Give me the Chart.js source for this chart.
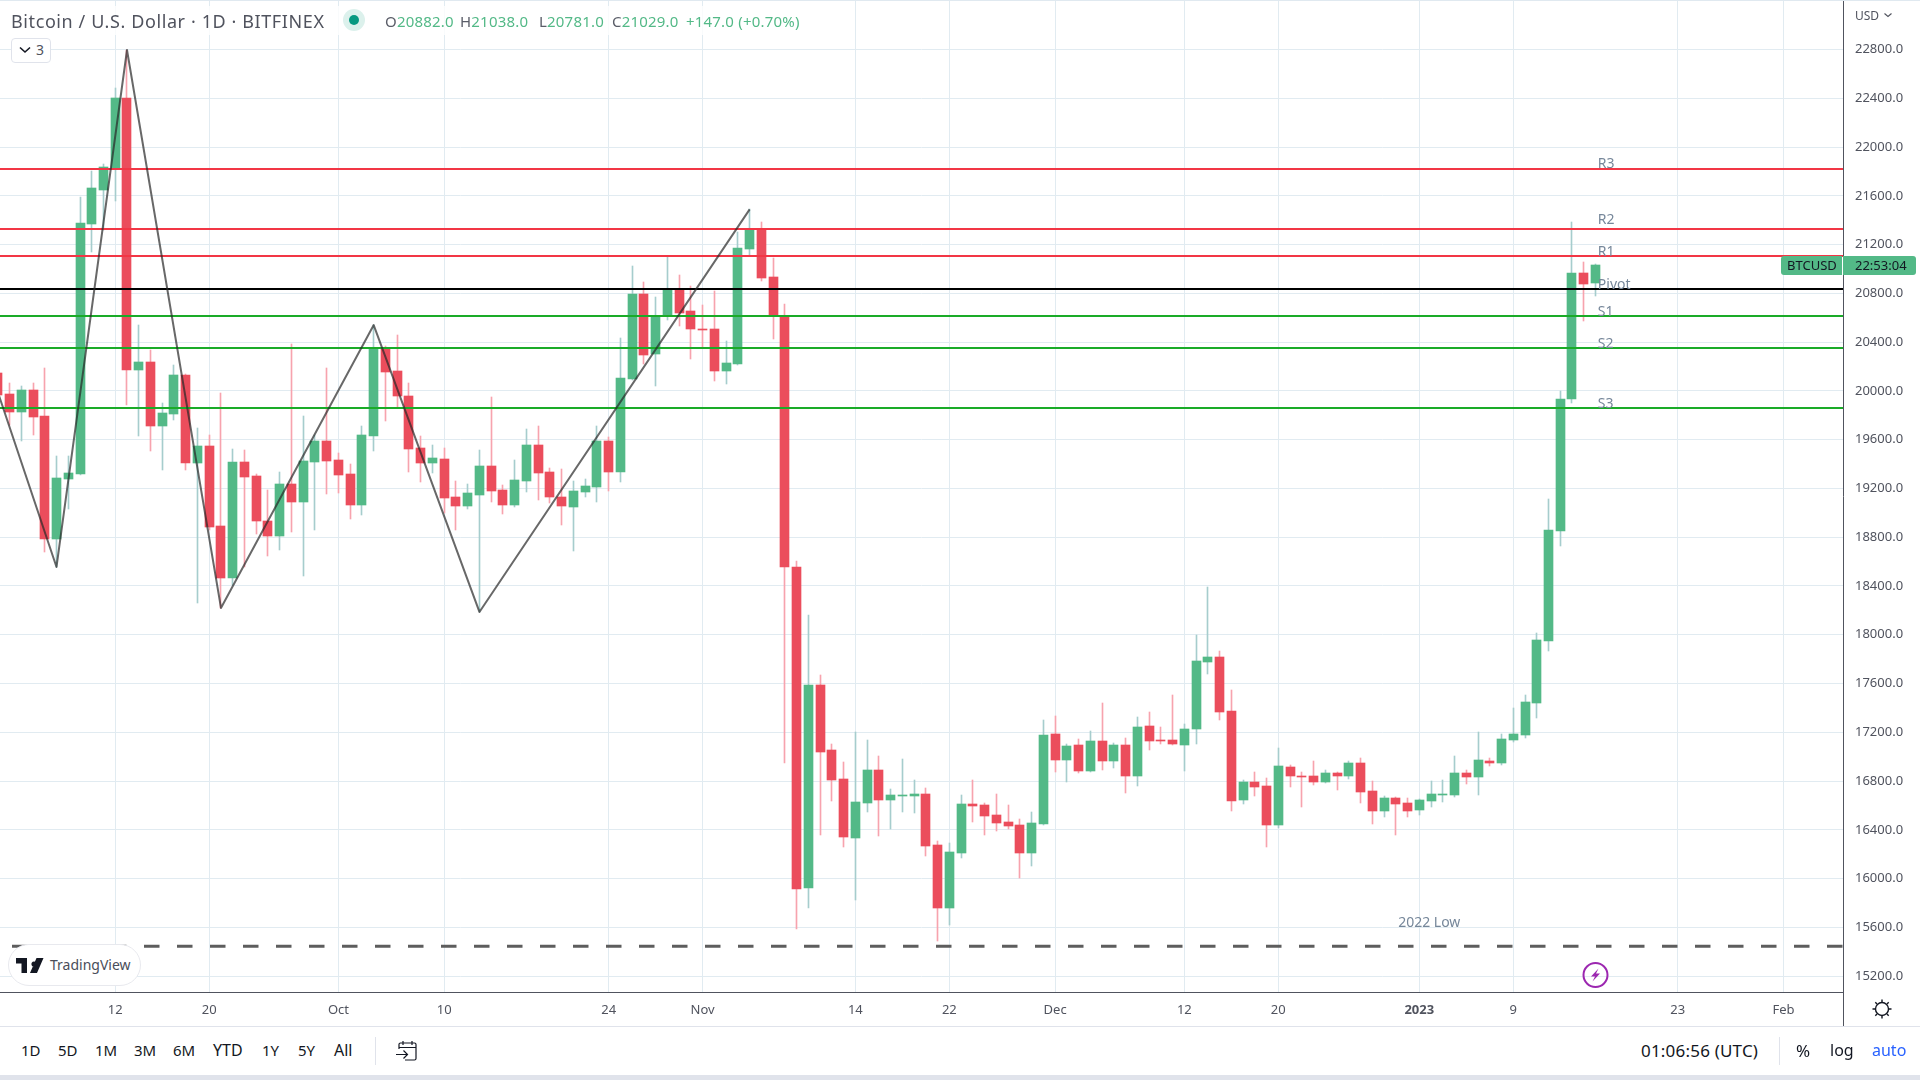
<!DOCTYPE html>
<html><head><meta charset="utf-8"><title>BTCUSD</title>
<script src="https://cdn.jsdelivr.net/npm/chart.js@4/dist/chart.umd.min.js"></script>
<style>
html,body{margin:0;padding:0;background:#fff;width:1920px;height:1080px;overflow:hidden;font-family:"Noto Sans",sans-serif}
#wrap{position:absolute;left:0;top:0;width:1920px;height:1080px}
canvas{position:absolute;left:0;top:0}
.t{position:absolute;white-space:nowrap;line-height:1}
.bar{color:#131722;font-size:15px;top:1043px}
.o{color:#53b987;font-size:15px;top:14px;letter-spacing:.2px}
.o b{color:#5a5d68;font-weight:400}
svg{position:absolute;overflow:visible}
</style></head><body><div id="wrap">
<canvas id="c" width="1920" height="1027"></canvas>

<div style="position:absolute;left:0;top:0;width:1920px;height:1px;background:#e0e9f0"></div>
<div style="position:absolute;left:6px;top:6px;width:810px;height:29px;background:rgba(255,255,255,.8)"></div>
<div class="t" style="left:11px;top:12px;font-size:18px;color:#50535e;letter-spacing:.6px">Bitcoin / U.S. Dollar · 1D · BITFINEX</div>
<svg style="left:343px;top:9px" width="22" height="22"><circle cx="11" cy="11" r="11" fill="#dcf1ec"/><circle cx="11" cy="11" r="5" fill="#089981"/></svg>
<div class="t o" style="left:385px"><b>O</b>20882.0</div>
<div class="t o" style="left:460px"><b>H</b>21038.0</div>
<div class="t o" style="left:539px"><b>L</b>20781.0</div>
<div class="t o" style="left:612px"><b>C</b>21029.0</div>
<div class="t o" style="left:686px">+147.0 (+0.70%)</div>

<div style="position:absolute;left:11px;top:38px;width:38px;height:23px;border:1px solid #e0e3eb;border-radius:4px;background:#fff"></div>
<svg style="left:19px;top:46px" width="12" height="8"><path d="M1 1.5 L6 6 L11 1.5" fill="none" stroke="#131722" stroke-width="1.6"/></svg>
<div class="t" style="left:36px;top:43px;font-size:14px;color:#50535e">3</div>

<div class="t" style="left:1855px;top:10px;font-size:12px;color:#50535e">USD</div>
<svg style="left:1884px;top:13px" width="8" height="5"><path d="M.5 .5 L4 3.5 L7.5 .5" fill="none" stroke="#50535e" stroke-width="1.1"/></svg>

<div style="position:absolute;left:1781px;top:256px;width:61px;height:19px;background:#53b987;border-radius:3px 0 0 3px"></div>
<div class="t" style="left:1787px;top:259px;font-size:13px;color:#131722">BTCUSD</div>
<div style="position:absolute;left:1843px;top:256px;width:73px;height:19px;background:#53b987;border-radius:0 3px 3px 0"></div>
<div class="t" style="left:1855px;top:259px;font-size:13px;color:#131722">22:53:04</div>

<div style="position:absolute;left:8px;top:944px;width:131px;height:40px;background:#fff;border:1px solid #e8e9ee;border-radius:21px"></div>
<svg style="left:16px;top:958px" width="28" height="15" viewBox="0 0 28 15"><path d="M0 0H11V15H5.5V5.5H0Z M18 3.5a2.6 2.6 0 1 1-.01 0Z M20.5 0H27.5L21 15H14Z" fill="#131722"/></svg>
<div class="t" style="left:50px;top:958px;font-size:14px;color:#4a4e5a">TradingView</div>

<svg style="left:1583px;top:963px" width="24" height="24"><circle cx="12.5" cy="12" r="12" fill="none" stroke="#9c27b0" stroke-width="2"/><path d="M15.5 5.5 L8 13.5 H12 L9.5 18.5 L17 10.5 H13 Z" fill="#9c27b0"/></svg>

<div style="position:absolute;left:1843px;top:992px;width:1px;height:35px;background:#50535e"></div>
<svg style="left:1871px;top:998px" width="22" height="22" viewBox="0 0 22 22"><circle cx="11" cy="11" r="6.5" fill="none" stroke="#131722" stroke-width="1.4"/><path d="M11 1.5V4 M11 18V20.5 M1.5 11H4 M18 11H20.5 M4.3 4.3L6 6 M16 16L17.7 17.7 M17.7 4.3L16 6 M6 16L4.3 17.7" stroke="#131722" stroke-width="1.4"/></svg>

<div style="position:absolute;left:0;top:1026px;width:1920px;height:1px;background:#e0e3eb"></div>
<div class="t bar" style="left:21px">1D</div><div class="t bar" style="left:58px">5D</div>
<div class="t bar" style="left:95px">1M</div><div class="t bar" style="left:134px">3M</div>
<div class="t bar" style="left:173px">6M</div><div class="t bar" style="left:213px;font-size:16px;top:1042px">YTD</div>
<div class="t bar" style="left:262px">1Y</div><div class="t bar" style="left:298px">5Y</div>
<div class="t bar" style="left:334px;font-size:16px;top:1042px">All</div>
<div style="position:absolute;left:375px;top:1037px;width:1px;height:28px;background:#e0e3eb"></div>
<svg style="left:396px;top:1041px" width="22" height="20" viewBox="0 0 22 20"><path d="M3 8V3.5A1.5 1.5 0 0 1 4.5 2H18.5A1.5 1.5 0 0 1 20 3.5V17.5A1.5 1.5 0 0 1 18.5 19H9 M3 6.5H20 M7 0V4 M16 0V4 M0 13.5H11 M7.5 9.5L11.5 13.5L7.5 17.5" fill="none" stroke="#131722" stroke-width="1.2"/></svg>
<div class="t bar" style="left:1641px;font-size:17px;top:1042px;letter-spacing:.2px">01:06:56 (UTC)</div>
<div style="position:absolute;left:1779px;top:1037px;width:1px;height:28px;background:#e0e3eb"></div>
<div class="t bar" style="left:1796px;font-size:17px;top:1042px">%</div>
<div class="t bar" style="left:1830px;font-size:16px;top:1042px">log</div>
<div class="t bar" style="left:1872px;font-size:16px;top:1042px;color:#2962ff">auto</div>
<div style="position:absolute;left:0;top:1075px;width:1920px;height:5px;background:#e0e3eb"></div>
</div>
<script>
// Candles: first entry is 2 Sep 2022, one entry per day.
const firstDayOffset = -10; // days relative to 12 Sep 2022
const opens = [20147,19975,19830,20007,19794,18788,19278,19319,21369,21648,21828,22402,20171,20237,19712,19811,20130,19409,19548,18892,18466,19417,19302,18933,18810,19236,19089,19417,19589,19433,19319,19064,19630,20352,20163,19958,19532,19409,19442,19130,19056,19146,19384,19187,19064,19261,19556,19335,19130,19048,19171,19212,19589,19335,20098,20795,20303,20614,20836,20655,20508,20508,20163,20221,21164,21328,20934,20614,18556,15923,17588,17055,16817,16333,16620,16891,16645,16678,16678,16694,16276,15759,16210,16612,16604,16522,16464,16440,16210,16448,17186,16973,17096,16883,17129,16965,17096,16842,17252,17137,17137,17096,17227,17777,17818,17375,16645,16792,16760,16440,16916,16842,16842,16792,16866,16842,16948,16719,16555,16661,16620,16563,16637,16686,16686,16866,16834,16965,16948,17137,17178,17440,17949,18851,19934,20967,20882];
const highs = [20165,20062,20040,20062,20185,19466,19466,21590,21804,21861,22484,22796,20541,20335,19901,20212,20140,19696,19638,19983,19523,19515,19319,19187,19335,20385,19794,19638,20188,19491,19401,19712,20540,20368,20459,20065,19630,19556,19532,19261,19236,19515,19950,19228,19433,19687,19712,19368,19359,19261,19277,19712,19622,20434,21024,20893,20770,21098,20951,20860,20705,20819,20409,21303,21489,21385,21090,20713,18605,18162,17670,17104,16957,17203,17137,17006,16735,16981,16809,16743,16309,16292,16686,16809,16620,16694,16604,16489,16546,17301,17334,17104,17145,17211,17440,17112,17153,17326,17367,17244,17506,17268,17998,18392,17867,17547,16809,16874,16825,17071,16932,16874,16965,16891,16874,16965,16989,16801,16678,16670,16661,16650,16801,16809,17006,16891,17203,16989,17186,17399,17506,18014,19113,19999,21385,21057,21038];
const lows = [19940,19720,19592,19638,18682,18558,19031,19310,21142,21320,21557,19884,19630,19507,19351,19761,19351,18260,18860,18217,18408,18558,18826,18646,18695,18843,18482,18859,19155,19163,18949,18982,19507,19753,19868,19335,19253,19327,19000,18859,19031,18187,19089,18990,19050,19171,19105,19081,18900,18687,19130,19089,19179,19253,20090,20221,20040,20581,20532,20262,20360,20081,20057,20212,21115,20901,20426,16951,15587,15759,16358,16637,16259,15825,16546,16350,16407,16546,16538,16186,15488,15620,16169,16464,16358,16391,16407,16005,16104,16440,16874,16793,16866,16875,16891,16907,16702,16760,17055,17104,17096,16883,17104,17678,17301,16555,16612,16678,16259,16415,16751,16587,16768,16785,16727,16817,16620,16448,16505,16358,16505,16522,16587,16628,16670,16776,16686,16924,16932,17121,17153,17317,17867,18728,19901,20573,20781];
const closes = [19966,19830,20007,19789,18788,19286,19327,21377,21664,21836,22402,20171,20237,19712,19819,20130,19409,19548,18884,18466,19417,19294,18933,18810,19236,19089,19425,19589,19425,19310,19064,19638,20352,20155,19958,19524,19409,19450,19122,19056,19163,19384,19179,19064,19269,19556,19327,19130,19056,19179,19220,19589,19335,20106,20795,20294,20614,20836,20639,20508,20500,20163,20229,21172,21320,20926,20622,18558,15915,17588,17039,16809,16341,16628,16891,16645,16686,16686,16694,16268,15759,16218,16612,16596,16514,16456,16432,16210,16456,17178,16973,17088,16883,17129,16965,17096,16842,17244,17129,17129,17104,17227,17785,17818,17367,16637,16792,16751,16440,16924,16842,16834,16792,16866,16842,16948,16710,16555,16661,16612,16555,16645,16694,16694,16866,16834,16973,16948,17145,17186,17449,17957,18859,19934,20967,20877,21029];

// Axes
const priceTicks = [15200,15600,16000,16400,16800,17200,17600,18000,18400,18800,19200,19600,20000,20400,20800,21200,21600,22000,22400,22800];
const dateTickDays = [0,8,19,28,42,50,63,71,80,91,99,111,119,133,142];
const dateTickLabels = ['12','20','Oct','10','24','Nov','14','22','Dec','12','20','2023','9','23','Feb'];
const boldDateLabel = '2023';

// Pivot levels
const levelNames = ['R3','R2','R1','Pivot','S1','S2','S3'];
const levelValues = [21820,21328,21106,20836,20614,20352,19860];
const levelLabelValues = [21830,21369,21106,20836,20614,20352,19860];
const levelLabelDay = 126.2;
const lowValue = 15445;
const lowLabel = '2022 Low';
const lowLabelDay = 109.2;
const lowLabelValue = 15603;

// Zigzag drawing
const zigzagDays = [-12,-5,1,9,22,31,54];
const zigzagValues = [20565,18556,22796,18220,20540,18187,21489];

// Scale ranges
const xMin = -9.8102, xMax = 147.068, yMin = 15070.2, yMax = 23206;

const UP='#53b987', DOWN='#eb4d5c', UPW='#a6cdcd', DOWNW='#f7a3ae';
const days = opens.map((_,i)=>i+firstDayOffset);
const isUp = i => closes[i] >= opens[i];
const levelColor = ['#f23645','#f23645','#f23645','#000000','#1aab28','#1aab28','#1aab28'];

const hline = (v,color,extra={}) => Object.assign({type:'line',data:[{x:xMin,y:v},{x:xMax,y:v}],borderColor:color,borderWidth:2,pointRadius:0,order:2,tension:0},extra);

const snap = {
  id:'snap',
  beforeDatasetsDraw(chart){
    chart.data.datasets.forEach((ds,i)=>{
      if(ds.type!=='bar') return;
      chart.getDatasetMeta(i).data.forEach(el=>{
        el.x=Math.floor(el.x)+0.5;
        let a=Math.round(el.y), b=Math.round(el.base);
        if(a===b) b=a+1;
        el.y=a; el.base=b;
        el.height=Math.abs(b-a);
      });
    });
  }
};
const texts = {
  id:'texts',
  afterDatasetsDraw(chart){
    const {ctx,scales:{x,y}}=chart;
    ctx.save();
    ctx.font='14px "Noto Sans"';
    ctx.fillStyle='#76879a';
    ctx.textAlign='left';
    ctx.textBaseline='alphabetic';
    levelNames.forEach((n,i)=>ctx.fillText(n,x.getPixelForValue(levelLabelDay),y.getPixelForValue(levelLabelValues[i])));
    ctx.fillText(lowLabel,x.getPixelForValue(lowLabelDay),y.getPixelForValue(lowLabelValue));
    ctx.restore();
  }
};

new Chart(document.getElementById('c'),{
  type:'bar',
  data:{datasets:[
    {type:'bar',grouped:false,order:5,barThickness:1,data:days.map((d,i)=>({x:d,y:[lows[i],highs[i]]})),backgroundColor:days.map((d,i)=>isUp(i)?UPW:DOWNW),borderWidth:0},
    {type:'bar',grouped:false,order:4,barThickness:9,data:days.map((d,i)=>({x:d,y:[opens[i],closes[i]]})),backgroundColor:days.map((d,i)=>isUp(i)?UP:DOWN),borderWidth:0},
    ...levelValues.map((v,i)=>hline(v,levelColor[i])),
    hline(lowValue,'#5d5d5d',{borderWidth:3,borderDash:[15.5,17.5],borderDashOffset:21}),
    {type:'line',order:1,data:zigzagDays.map((d,i)=>({x:d,y:zigzagValues[i]})),borderColor:'rgba(40,40,40,.7)',borderWidth:2,borderJoinStyle:'round',pointRadius:0,tension:0}
  ]},
  plugins:[snap,texts],
  options:{
    responsive:false,animation:false,devicePixelRatio:1,
    layout:{padding:0},
    plugins:{legend:{display:false},tooltip:{enabled:false},title:{display:false}},
    events:[],
    scales:{
      x:{type:'linear',min:xMin,max:xMax,offset:false,
        grid:{color:'#e1ebf1',lineWidth:1,drawTicks:false,offset:false},
        border:{color:'#50535e',width:1},
        afterBuildTicks(s){s.ticks=dateTickDays.map(v=>({value:v}));},
        afterFit(s){s.height=35;s.paddingLeft=s.paddingRight=s.paddingTop=s.paddingBottom=0;},
        ticks:{autoSkip:false,maxRotation:0,minRotation:0,padding:10,color:'#50535e',
          font:c=>({family:'"Noto Sans"',size:13,weight:(dateTickLabels[dateTickDays.indexOf(c.tick&&c.tick.value)]===boldDateLabel)?'bold':'normal'}),
          callback:v=>dateTickLabels[dateTickDays.indexOf(v)]}
      },
      y:{type:'linear',position:'right',min:yMin,max:yMax,
        grid:{color:'#e1ebf1',lineWidth:1,drawTicks:false},
        border:{color:'#50535e',width:1},
        afterBuildTicks(s){s.ticks=priceTicks.map(v=>({value:v}));},
        afterFit(s){s.width=77;s.paddingLeft=s.paddingRight=s.paddingTop=s.paddingBottom=0;},
        ticks:{padding:12,color:'#50535e',font:{family:'"Noto Sans"',size:13},callback:v=>v.toFixed(1)}
      }
    }
  }
});
</script></body></html>
